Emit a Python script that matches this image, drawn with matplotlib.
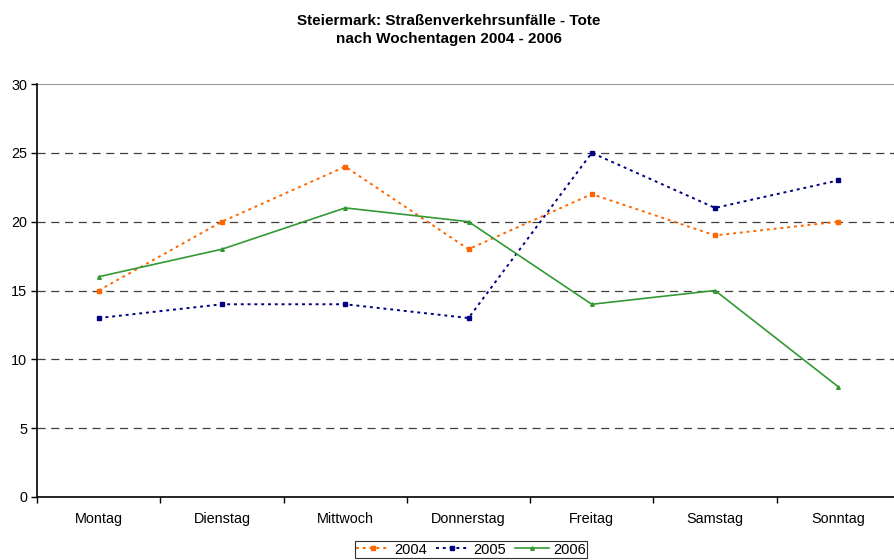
import matplotlib
matplotlib.use("Agg")
import matplotlib.pyplot as plt
import numpy as np

plt.rcParams['font.family'] = ['Liberation Sans', 'DejaVu Sans']

categories = ["Montag", "Dienstag", "Mittwoch", "Donnerstag", "Freitag", "Samstag", "Sonntag"]
s2004 = [15, 20, 24, 18, 22, 19, 20]
s2005 = [13, 14, 14, 13, 25, 21, 23]
s2006 = [16, 18, 21, 20, 14, 15, 8]
yticks = [0, 5, 10, 15, 20, 25, 30]

W, H = 894, 560
fig = plt.figure(figsize=(W/100, H/100), dpi=100)
left, right, top, bottom = 37, 900, 84, 497
ax = fig.add_axes([left/W, 1-bottom/H, (right-left)/W, (bottom-top)/H])

x = np.arange(len(categories))
ax.plot(x, s2004, color='#FF6600', linestyle=(0, (1.5, 2.0)), linewidth=1.4, marker='s', markersize=2.2, label='2004')
ax.plot(x, s2005, color='#000080', linestyle=(0, (1.5, 2.0)), linewidth=1.4, marker='s', markersize=2.6, label='2005')
ax.plot(x, s2006, color='#339933', linestyle='-', linewidth=1.2, marker='^', markersize=2.6, label='2006')

ax.set_xlim(-0.5, len(categories) - 0.5)
ax.set_ylim(0, 30)
ax.set_yticks(yticks)
ax.set_yticklabels([str(v) for v in yticks], fontsize=10.4)
ax.set_xticks(x)
ax.set_xticklabels(categories, fontsize=10.4)
ax.tick_params(axis='x', length=0, pad=11)
ax.set_xticks(np.arange(-0.5, len(categories), 1), minor=True)
ax.tick_params(axis='x', which='minor', length=4, direction='out', width=1)
ax.tick_params(axis='y', length=4, width=1, direction='out', pad=3)

for v in yticks[1:-1]:
    ax.axhline(v, color='#404040', linestyle=(0, (6.5, 4.5)), linewidth=0.9, zorder=0)
ax.axhline(30, color='#808080', linewidth=1.2, zorder=0)

ax.spines['top'].set_visible(False)
ax.spines['right'].set_visible(False)
ax.spines['left'].set_linewidth(1.2)
ax.spines['bottom'].set_linewidth(1.2)

fig.text(449/W, 1-21/H, "Steiermark: Straßenverkehrsunfälle - Tote", ha='center', va='center', fontsize=11, fontweight='bold')
fig.text(449/W, 1-39/H, "nach Wochentagen 2004 - 2006", ha='center', va='center', fontsize=11, fontweight='bold')

leg = fig.legend(loc='center', bbox_to_anchor=(471/W, 1-549.5/H), ncol=3, fontsize=10.5,
                 frameon=True, fancybox=False, edgecolor='black', handlelength=2.3,
                 handletextpad=0.3, columnspacing=0.6, borderpad=0.1, borderaxespad=0)
leg.get_frame().set_linewidth(0.8)

fig.savefig("out.png", dpi=100)
